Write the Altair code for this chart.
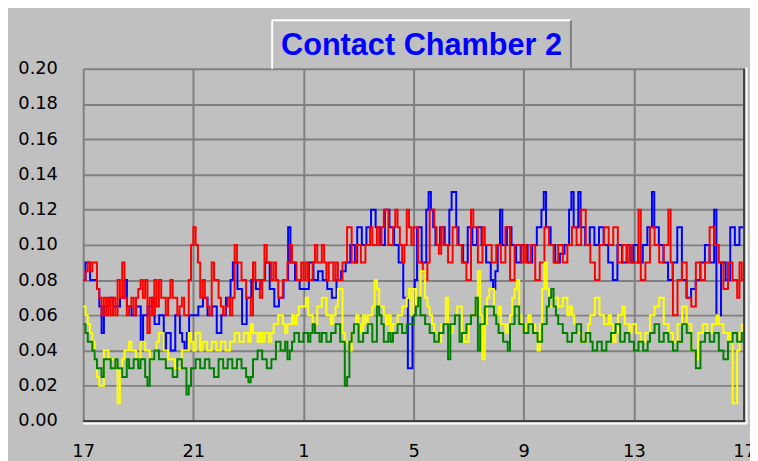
import altair as alt
import pandas as pd

TITLE = "Contact Chamber 2"
X_TICKS = [0, 4, 8, 12, 16, 20, 24]
X_LABELS = ["17", "21", "1", "5", "9", "13", "17"]
Y_TICKS = [0.00, 0.02, 0.04, 0.06, 0.08, 0.10, 0.12, 0.14, 0.16, 0.18, 0.20]
SPAN_HOURS = 24  # 17:00 to 17:00

# readings in thousandths (0.001 units), 5-minute steps starting at 17:00
blue = [80, 90, 90, 80, 80, 80, 75, 65, 50, 65, 65, 70, 70, 65, 65, 65, 70, 70, 80, 65, 65, 60, 60, 65,
        65, 45, 60, 60, 65, 65, 70, 55, 55, 60, 60, 40, 50, 50, 40, 40, 60, 60, 50, 45, 40, 50, 60, 60,
        60, 60, 65, 65, 70, 70, 60, 60, 65, 65, 50, 50, 60, 60, 70, 70, 80, 90, 90, 75, 75, 55, 55, 70,
        70, 80, 80, 75, 75, 80, 80, 90, 90, 75, 75, 65, 65, 70, 70, 80, 80, 110, 90, 90, 80, 80, 75, 75,
        75, 75, 90, 90, 80, 80, 85, 85, 80, 80, 75, 75, 70, 70, 80, 80, 85, 85, 90, 90, 100, 100, 90, 110,
        110, 100, 100, 110, 110, 120, 120, 110, 110, 100, 100, 120, 120, 110, 110, 100, 100, 90, 90, 70, 70, 30, 30, 60,
        80, 110, 110, 90, 90, 120, 130, 120, 110, 100, 100, 110, 110, 100, 100, 120, 130, 130, 110, 100, 100, 90, 90, 110,
        110, 100, 100, 110, 110, 100, 100, 90, 90, 80, 75, 85, 100, 120, 100, 100, 110, 110, 100, 100, 90, 90, 100, 100,
        100, 90, 90, 100, 100, 110, 110, 120, 130, 110, 110, 100, 100, 90, 90, 95, 95, 100, 100, 120, 130, 110, 110, 130,
        110, 110, 100, 100, 110, 110, 100, 100, 110, 110, 100, 100, 90, 90, 80, 80, 100, 100, 90, 90, 100, 100, 90, 100,
        100, 90, 90, 100, 100, 110, 110, 130, 110, 110, 100, 100, 90, 90, 80, 80, 90, 90, 110, 110, 80, 80, 70, 70,
        75, 75, 80, 80, 90, 90, 100, 100, 90, 90, 120, 60, 60, 90, 90, 80, 80, 110, 110, 100, 100, 110, 110, 110]

red = [80, 85, 90, 85, 90, 90, 75, 70, 60, 70, 60, 70, 60, 70, 60, 80, 70, 90, 70, 60, 65, 70, 60, 70,
       75, 80, 70, 80, 50, 70, 60, 80, 65, 80, 70, 70, 60, 70, 80, 70, 70, 60, 65, 70, 60, 60, 80, 100,
       110, 100, 90, 70, 80, 70, 65, 60, 90, 80, 80, 70, 65, 60, 65, 70, 60, 70, 100, 90, 90, 80, 80, 70,
       70, 60, 90, 80, 80, 70, 80, 100, 90, 90, 80, 90, 80, 70, 70, 80, 80, 90, 100, 90, 90, 80, 80, 90,
       80, 90, 80, 80, 90, 100, 90, 90, 100, 90, 80, 90, 90, 80, 90, 80, 80, 90, 90, 110, 110, 90, 90, 100,
       100, 90, 90, 100, 100, 110, 100, 100, 110, 100, 110, 120, 120, 100, 100, 110, 120, 110, 100, 90, 100, 120, 110, 100,
       110, 110, 90, 90, 85, 80, 90, 120, 120, 110, 100, 95, 110, 100, 100, 90, 90, 110, 110, 100, 100, 90, 90, 80,
       80, 120, 110, 110, 90, 90, 110, 100, 100, 100, 90, 90, 100, 100, 90, 90, 110, 110, 80, 80, 100, 100, 100, 90,
       100, 90, 90, 100, 100, 80, 80, 90, 90, 110, 110, 100, 100, 90, 90, 100, 100, 90, 90, 100, 100, 110, 110, 100,
       100, 120, 120, 100, 100, 90, 90, 80, 80, 100, 100, 110, 110, 100, 100, 110, 110, 90, 90, 100, 100, 90, 100, 90,
       90, 90, 120, 80, 80, 90, 90, 110, 110, 100, 100, 90, 90, 100, 100, 120, 90, 60, 60, 80, 80, 90, 90, 70,
       70, 65, 65, 90, 90, 80, 80, 90, 90, 110, 110, 100, 100, 90, 90, 75, 75, 90, 90, 80, 80, 70, 90, 80, 90]

yellow = [65, 60, 55, 50, 45, 35, 25, 20, 20, 40, 40, 35, 35, 35, 30, 10, 30, 35, 40, 40, 45, 40, 40, 35,
          35, 45, 45, 40, 40, 35, 35, 40, 45, 50, 50, 40, 40, 35, 35, 35, 30, 30, 30, 40, 40, 40, 50, 45,
          40, 50, 50, 40, 45, 45, 40, 40, 45, 45, 40, 40, 45, 45, 40, 40, 45, 45, 50, 50, 45, 45, 50, 50,
          45, 55, 50, 50, 45, 50, 45, 50, 50, 45, 50, 55, 55, 60, 60, 55, 50, 55, 55, 60, 55, 60, 65, 65,
          65, 70, 60, 60, 55, 55, 65, 65, 70, 70, 60, 60, 55, 60, 65, 75, 75, 50, 45, 45, 40, 50, 55, 60,
          55, 50, 60, 55, 60, 60, 65, 80, 75, 65, 65, 60, 55, 60, 50, 55, 55, 60, 60, 65, 65, 70, 75, 60,
          75, 65, 65, 85, 85, 70, 65, 60, 55, 50, 50, 45, 55, 55, 70, 50, 50, 55, 60, 65, 65, 50, 45, 45,
          55, 60, 60, 65, 85, 60, 35, 55, 70, 75, 75, 60, 60, 65, 55, 55, 50, 55, 60, 70, 75, 80, 60, 55,
          50, 55, 60, 55, 55, 50, 40, 55, 75, 90, 75, 65, 65, 70, 70, 65, 65, 70, 70, 60, 65, 60, 55, 50,
          50, 45, 45, 50, 55, 60, 60, 70, 70, 60, 60, 55, 55, 60, 55, 45, 50, 60, 60, 65, 55, 55, 50, 55,
          55, 50, 50, 45, 45, 50, 50, 60, 60, 65, 65, 70, 70, 55, 55, 50, 50, 45, 45, 55, 55, 65, 65, 55,
          55, 40, 40, 35, 50, 50, 55, 55, 50, 50, 55, 55, 60, 55, 55, 50, 50, 45, 50, 10, 10, 40, 50, 55, 55]

green = [55, 50, 45, 45, 40, 35, 30, 30, 25, 35, 35, 35, 30, 30, 35, 30, 30, 25, 25, 35, 30, 30, 35, 35,
         30, 35, 35, 25, 20, 35, 35, 40, 40, 35, 35, 35, 30, 30, 30, 25, 25, 35, 35, 30, 30, 15, 20, 30,
         30, 35, 35, 30, 30, 35, 35, 30, 30, 25, 25, 35, 35, 30, 30, 35, 35, 30, 30, 35, 35, 30, 30, 25,
         22, 25, 35, 35, 40, 40, 35, 35, 30, 30, 35, 35, 45, 45, 40, 40, 45, 35, 40, 45, 50, 50, 45, 45,
         50, 50, 45, 50, 55, 50, 50, 45, 50, 50, 45, 45, 50, 50, 55, 55, 45, 45, 20, 25, 45, 50, 55, 55,
         45, 45, 50, 50, 55, 55, 45, 45, 65, 60, 55, 45, 45, 50, 45, 50, 50, 55, 55, 50, 50, 55, 55, 55,
         60, 65, 70, 60, 60, 55, 55, 50, 50, 45, 45, 50, 50, 55, 55, 35, 55, 55, 60, 60, 45, 50, 50, 55,
         55, 60, 60, 70, 40, 55, 55, 65, 65, 65, 65, 60, 55, 50, 50, 45, 45, 40, 55, 55, 65, 65, 55, 55,
         50, 50, 55, 55, 50, 50, 45, 45, 55, 55, 65, 70, 75, 65, 60, 55, 55, 50, 50, 45, 45, 50, 50, 55,
         55, 45, 45, 50, 50, 45, 40, 40, 45, 45, 40, 40, 45, 45, 50, 50, 55, 55, 45, 45, 50, 50, 45, 45,
         40, 40, 45, 45, 40, 40, 45, 50, 50, 55, 55, 45, 45, 50, 50, 45, 45, 40, 40, 45, 45, 55, 55, 50,
         50, 40, 40, 30, 30, 45, 45, 50, 50, 45, 45, 50, 50, 40, 40, 35, 35, 45, 45, 50, 50, 45, 45, 50, 50]

SERIES = [("blue", blue, "#0000FF"), ("red", red, "#FF0000"),
          ("yellow", yellow, "#FFFF00"), ("green", green, "#008000")]

BG = "#C0C0C0"
GRID = "#808080"
W, H = 668, 356

label_expr = "[" + ",".join(f"'{s}'" for s in X_LABELS) + "][round(datum.value/4)]"

x_enc = alt.X("h:Q", scale=alt.Scale(domain=[0, SPAN_HOURS], nice=False, zero=False),
              axis=alt.Axis(values=X_TICKS, labelExpr=label_expr, title=None, grid=True,
                            gridColor=GRID, gridWidth=2, gridOpacity=1, ticks=False, tickSize=0,
                            domain=False, labelFont="DejaVu Sans", labelFontSize=18,
                            labelColor="#000000", labelPadding=22, labelFlush=False))

y_enc = alt.Y("v:Q", scale=alt.Scale(domain=[0, 0.2], nice=False),
              axis=alt.Axis(values=Y_TICKS, format=".2f", title=None, grid=True,
                            gridColor=GRID, gridWidth=2, gridOpacity=1, ticks=False, tickSize=0,
                            domain=False, labelFont="DejaVu Sans", labelFontSize=18,
                            labelColor="#000000", labelPadding=26))

layers = []
for name, vals, col in SERIES:
    n = len(vals)
    d = pd.DataFrame({"h": [i * SPAN_HOURS / (n - 1) for i in range(n)],
                      "v": [v / 1000 for v in vals]})
    layers.append(
        alt.Chart(d).mark_line(color=col, strokeWidth=2, interpolate="step-after")
        .encode(x=x_enc, y=y_enc)
    )

one = pd.DataFrame({"k": [0]})

# 3D frame of the plot area
frame = [
    (0, W + 2, H, H, "#404040"),
    (0, W + 3, H + 2.5, H + 2.5, "#FFFFFF"),
    (W, W, 0, H + 1, "#404040"),
    (W + 2.5, W + 2.5, -1, H + 3, "#FFFFFF"),
]
for x1, x2, y1, y2, c in frame:
    layers.append(alt.Chart(one).mark_rule(color=c, strokeWidth=2).encode(
        x=alt.value(x1), x2=alt.value(x2), y=alt.value(y1), y2=alt.value(y2)))

# title box (raised look)
bx1, bx2, by1, by2 = 191, 493, -49, 0
box = [
    (bx1, bx2, by1, by1, "#FFFFFF"),
    (bx1, bx1, by1, by2, "#FFFFFF"),
    (bx2, bx2, by1, by2, "#808080"),
]
for x1, x2, y1, y2, c in box:
    layers.append(alt.Chart(one).mark_rule(color=c, strokeWidth=2).encode(
        x=alt.value(x1), x2=alt.value(x2), y=alt.value(y1), y2=alt.value(y2)))

layers.append(
    alt.Chart(pd.DataFrame({"t": [TITLE]})).mark_text(
        font="Liberation Sans", fontSize=31, fontWeight="bold", color="#0000FF",
        align="center", baseline="alphabetic")
    .encode(text="t:N", x=alt.value(342), y=alt.value(-14))
)

chart = alt.layer(*layers).properties(
    width=W, height=H,
    padding={"left": 76, "top": 59, "right": 6, "bottom": 38},
    autosize=alt.AutoSizeParams(type="none"),
).configure(background=BG).configure_view(stroke=None, fill=BG)

chart.save("out.html", embed_options={"renderer": "svg", "actions": False})
